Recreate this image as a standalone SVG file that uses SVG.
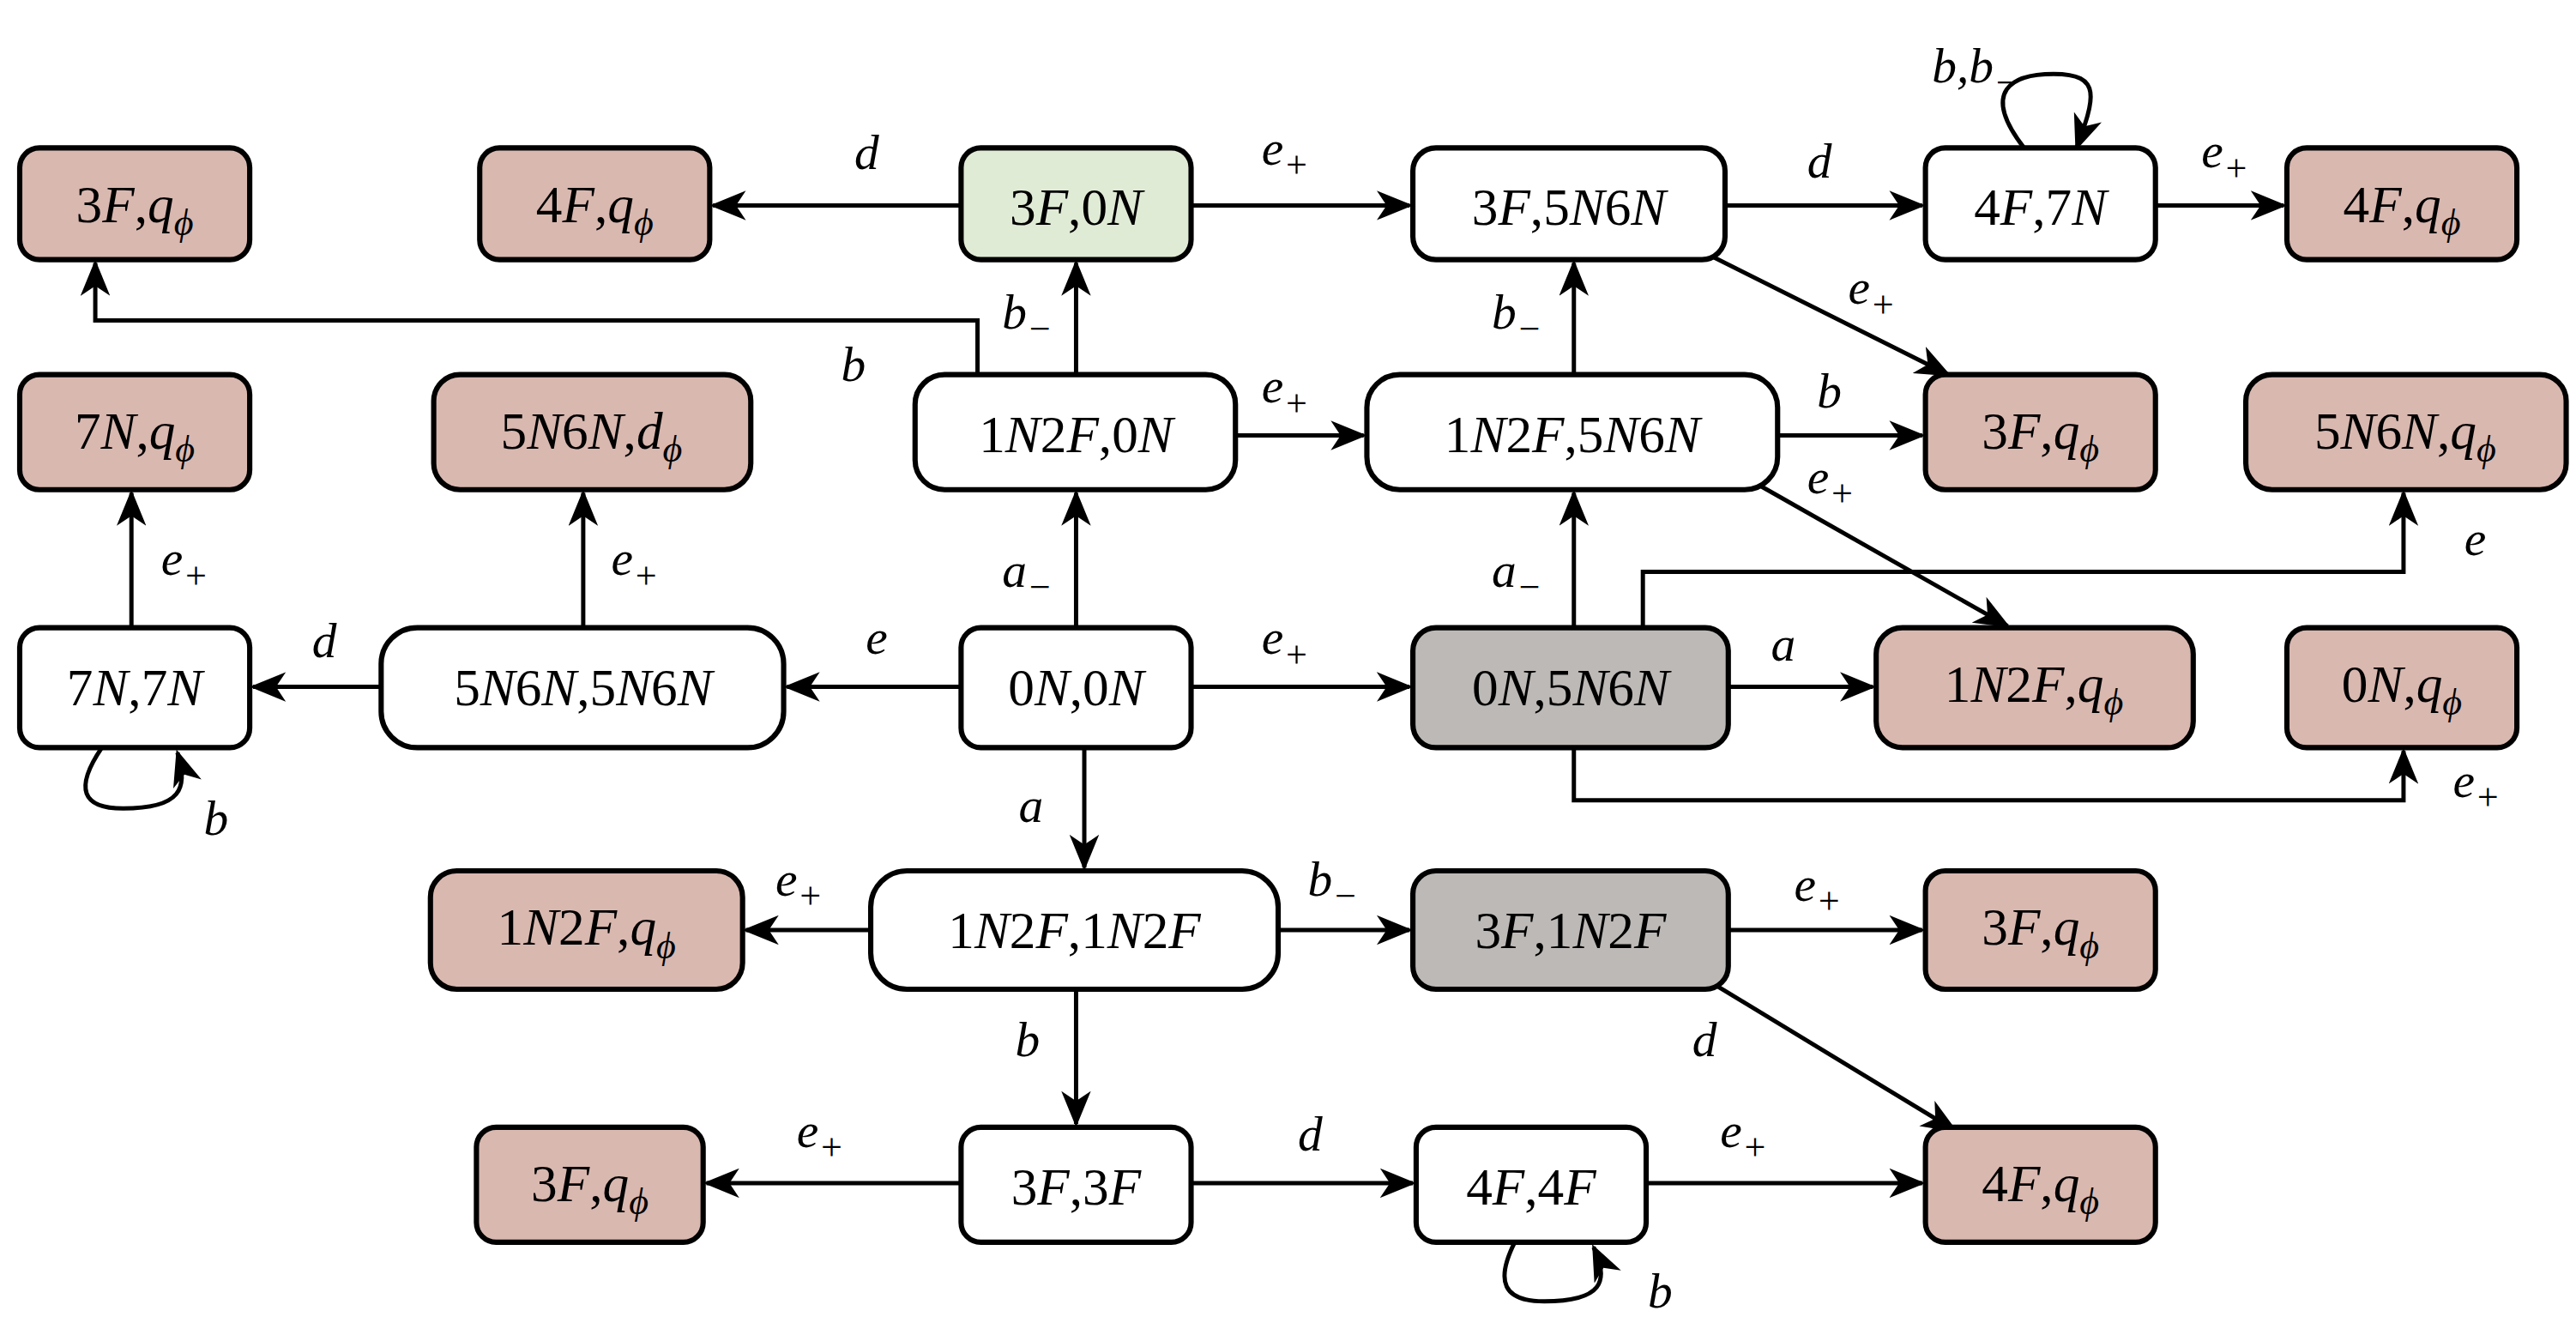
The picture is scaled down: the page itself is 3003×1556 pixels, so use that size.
<svg xmlns="http://www.w3.org/2000/svg" width="3003" height="1556" viewBox="0 0 3003 1556">
<style>
.n rect{stroke:#000;stroke-width:3.2}
.w{fill:#fff}.p{fill:#d9b8b0}.g{fill:#e0ebd6}.s{fill:#bdb9b7}
text{font-family:"Liberation Serif","Times New Roman",serif;font-size:32px;fill:#000}
.t{text-anchor:middle}
.i{font-style:italic}
.sub{font-size:23px;font-style:italic}
#edges path,#edges line{stroke:#000;stroke-width:2.6;fill:none}
.lb{font-style:italic;font-size:30px}
</style>
<defs>
<marker id="ah" markerUnits="userSpaceOnUse" markerWidth="22" markerHeight="18" refX="20" refY="9" orient="auto"><path d="M0,0 L22,9 L0,18 L6,9 Z" fill="#000"/></marker>
</defs>
<rect width="3003" height="1556" fill="#fff"/>
<g transform="scale(1.9152)">
<g id="edges">
<line x1="585" y1="125" x2="434" y2="125" marker-end="url(#ah)"/>
<line x1="725" y1="125" x2="858" y2="125" marker-end="url(#ah)"/>
<line x1="1050" y1="125" x2="1170" y2="125" marker-end="url(#ah)"/>
<line x1="1312" y1="125" x2="1390" y2="125" marker-end="url(#ah)"/>
<path d="M1232,90 C1205,55 1225,45 1250,45 C1280,45 1275,60 1264,90" marker-end="url(#ah)"/>
<line x1="1030" y1="150" x2="1186" y2="228" marker-end="url(#ah)"/>
<line x1="958" y1="228" x2="958" y2="160" marker-end="url(#ah)"/>
<line x1="655" y1="228" x2="655" y2="160" marker-end="url(#ah)"/>
<path d="M595,228 V195 H58 V160" marker-end="url(#ah)"/>
<line x1="752" y1="265" x2="830" y2="265" marker-end="url(#ah)"/>
<line x1="1082" y1="265" x2="1170" y2="265" marker-end="url(#ah)"/>
<line x1="1065" y1="292" x2="1222" y2="381" marker-end="url(#ah)"/>
<line x1="958" y1="382" x2="958" y2="300" marker-end="url(#ah)"/>
<path d="M1000,382 V348 H1463 V300" marker-end="url(#ah)"/>
<line x1="1052" y1="418" x2="1140" y2="418" marker-end="url(#ah)"/>
<path d="M958,455 V487 H1463 V457" marker-end="url(#ah)"/>
<line x1="725" y1="418" x2="858" y2="418" marker-end="url(#ah)"/>
<line x1="655" y1="382" x2="655" y2="300" marker-end="url(#ah)"/>
<line x1="585" y1="418" x2="479" y2="418" marker-end="url(#ah)"/>
<line x1="355" y1="382" x2="355" y2="300" marker-end="url(#ah)"/>
<line x1="232" y1="418" x2="154" y2="418" marker-end="url(#ah)"/>
<line x1="80" y1="382" x2="80" y2="300" marker-end="url(#ah)"/>
<path d="M62,455 C45,480 50,492 75,492 C110,492 115,480 108,458" marker-end="url(#ah)"/>
<line x1="660" y1="455" x2="660" y2="528" marker-end="url(#ah)"/>
<line x1="530" y1="566" x2="454" y2="566" marker-end="url(#ah)"/>
<line x1="778" y1="566" x2="858" y2="566" marker-end="url(#ah)"/>
<line x1="1052" y1="566" x2="1170" y2="566" marker-end="url(#ah)"/>
<line x1="1045" y1="600" x2="1190" y2="688" marker-end="url(#ah)"/>
<line x1="655" y1="602" x2="655" y2="684" marker-end="url(#ah)"/>
<line x1="585" y1="720" x2="430" y2="720" marker-end="url(#ah)"/>
<line x1="725" y1="720" x2="860" y2="720" marker-end="url(#ah)"/>
<line x1="1002" y1="720" x2="1170" y2="720" marker-end="url(#ah)"/>
<path d="M922,756 C910,780 915,792 940,792 C975,792 980,780 970,759" marker-end="url(#ah)"/>
</g>
<g id="labels">
<text class="lb" x="520" y="103">d</text>
<text class="lb" x="768" y="100">e<tspan class="sub" dy="8">+</tspan></text>
<text class="lb" x="1100" y="108">d</text>
<text class="lb" x="1340" y="102">e<tspan class="sub" dy="8">+</tspan></text>
<text class="lb" x="1176" y="50">b,b<tspan class="sub" dy="8">−</tspan></text>
<text class="lb" x="1125" y="185">e<tspan class="sub" dy="8">+</tspan></text>
<text class="lb" x="908" y="200">b<tspan class="sub" dy="8">−</tspan></text>
<text class="lb" x="610" y="200">b<tspan class="sub" dy="8">−</tspan></text>
<text class="lb" x="512" y="232">b</text>
<text class="lb" x="768" y="245">e<tspan class="sub" dy="8">+</tspan></text>
<text class="lb" x="1106" y="248">b</text>
<text class="lb" x="1100" y="300">e<tspan class="sub" dy="8">+</tspan></text>
<text class="lb" x="908" y="357">a<tspan class="sub" dy="8">−</tspan></text>
<text class="lb" x="1500" y="338">e</text>
<text class="lb" x="1078" y="402">a</text>
<text class="lb" x="1493" y="485">e<tspan class="sub" dy="8">+</tspan></text>
<text class="lb" x="768" y="398">e<tspan class="sub" dy="8">+</tspan></text>
<text class="lb" x="610" y="357">a<tspan class="sub" dy="8">−</tspan></text>
<text class="lb" x="527" y="398">e</text>
<text class="lb" x="372" y="350">e<tspan class="sub" dy="8">+</tspan></text>
<text class="lb" x="190" y="400">d</text>
<text class="lb" x="98" y="350">e<tspan class="sub" dy="8">+</tspan></text>
<text class="lb" x="124" y="508">b</text>
<text class="lb" x="620" y="500">a</text>
<text class="lb" x="472" y="545">e<tspan class="sub" dy="8">+</tspan></text>
<text class="lb" x="796" y="545">b<tspan class="sub" dy="8">−</tspan></text>
<text class="lb" x="1092" y="548">e<tspan class="sub" dy="8">+</tspan></text>
<text class="lb" x="1030" y="643">d</text>
<text class="lb" x="618" y="643">b</text>
<text class="lb" x="485" y="698">e<tspan class="sub" dy="8">+</tspan></text>
<text class="lb" x="790" y="700">d</text>
<text class="lb" x="1047" y="698">e<tspan class="sub" dy="8">+</tspan></text>
<text class="lb" x="1003" y="796">b</text>
</g>
<!-- row 1 -->
<g id="n_3Fq1" class="n"><rect class="p" x="12" y="90" width="140" height="68" rx="12"/><text class="t" x="82" y="135">3<tspan class="i">F</tspan>,<tspan class="i">q</tspan><tspan class="sub" dy="8">ϕ</tspan></text></g>
<g id="n_4Fq1" class="n"><rect class="p" x="292" y="90" width="140" height="68" rx="12"/><text class="t" x="362" y="135">4<tspan class="i">F</tspan>,<tspan class="i">q</tspan><tspan class="sub" dy="8">ϕ</tspan></text></g>
<g id="n_3F0N" class="n"><rect class="g" x="585" y="90" width="140" height="68" rx="12"/><text class="t" x="655" y="137">3<tspan class="i">F</tspan>,0<tspan class="i">N</tspan></text></g>
<g id="n_3F5N6N" class="n"><rect class="w" x="860" y="90" width="190" height="68" rx="14"/><text class="t" x="955" y="137">3<tspan class="i">F</tspan>,5<tspan class="i">N</tspan>6<tspan class="i">N</tspan></text></g>
<g id="n_4F7N" class="n"><rect class="w" x="1172" y="90" width="140" height="68" rx="12"/><text class="t" x="1242" y="137">4<tspan class="i">F</tspan>,7<tspan class="i">N</tspan></text></g>
<g id="n_4Fq2" class="n"><rect class="p" x="1392" y="90" width="140" height="68" rx="12"/><text class="t" x="1462" y="135">4<tspan class="i">F</tspan>,<tspan class="i">q</tspan><tspan class="sub" dy="8">ϕ</tspan></text></g>
<!-- row 2 -->
<g id="n_7Nq" class="n"><rect class="p" x="12" y="228" width="140" height="70" rx="12"/><text class="t" x="82" y="273">7<tspan class="i">N</tspan>,<tspan class="i">q</tspan><tspan class="sub" dy="8">ϕ</tspan></text></g>
<g id="n_5N6Nd" class="n"><rect class="p" x="264" y="228" width="193" height="70" rx="16"/><text class="t" x="360" y="273">5<tspan class="i">N</tspan>6<tspan class="i">N</tspan>,<tspan class="i">d</tspan><tspan class="sub" dy="8">ϕ</tspan></text></g>
<g id="n_1N2F0N" class="n"><rect class="w" x="557" y="228" width="195" height="70" rx="18"/><text class="t" x="655" y="275">1<tspan class="i">N</tspan>2<tspan class="i">F</tspan>,0<tspan class="i">N</tspan></text></g>
<g id="n_1N2F5N6N" class="n"><rect class="w" x="832" y="228" width="250" height="70" rx="20"/><text class="t" x="957" y="275">1<tspan class="i">N</tspan>2<tspan class="i">F</tspan>,5<tspan class="i">N</tspan>6<tspan class="i">N</tspan></text></g>
<g id="n_3Fq2" class="n"><rect class="p" x="1172" y="228" width="140" height="70" rx="12"/><text class="t" x="1242" y="273">3<tspan class="i">F</tspan>,<tspan class="i">q</tspan><tspan class="sub" dy="8">ϕ</tspan></text></g>
<g id="n_5N6Nq" class="n"><rect class="p" x="1367" y="228" width="195" height="70" rx="16"/><text class="t" x="1464" y="273">5<tspan class="i">N</tspan>6<tspan class="i">N</tspan>,<tspan class="i">q</tspan><tspan class="sub" dy="8">ϕ</tspan></text></g>
<!-- row 3 -->
<g id="n_7N7N" class="n"><rect class="w" x="12" y="382" width="140" height="73" rx="12"/><text class="t" x="82" y="429">7<tspan class="i">N</tspan>,7<tspan class="i">N</tspan></text></g>
<g id="n_5N6N5N6N" class="n"><rect class="w" x="232" y="382" width="245" height="73" rx="22"/><text class="t" x="355" y="429">5<tspan class="i">N</tspan>6<tspan class="i">N</tspan>,5<tspan class="i">N</tspan>6<tspan class="i">N</tspan></text></g>
<g id="n_0N0N" class="n"><rect class="w" x="585" y="382" width="140" height="73" rx="12"/><text class="t" x="655" y="429">0<tspan class="i">N</tspan>,0<tspan class="i">N</tspan></text></g>
<g id="n_0N5N6N" class="n"><rect class="s" x="860" y="382" width="192" height="73" rx="14"/><text class="t" x="956" y="429">0<tspan class="i">N</tspan>,5<tspan class="i">N</tspan>6<tspan class="i">N</tspan></text></g>
<g id="n_1N2Fq1" class="n"><rect class="p" x="1142" y="382" width="193" height="73" rx="16"/><text class="t" x="1238" y="427">1<tspan class="i">N</tspan>2<tspan class="i">F</tspan>,<tspan class="i">q</tspan><tspan class="sub" dy="8">ϕ</tspan></text></g>
<g id="n_0Nq" class="n"><rect class="p" x="1392" y="382" width="140" height="73" rx="12"/><text class="t" x="1462" y="427">0<tspan class="i">N</tspan>,<tspan class="i">q</tspan><tspan class="sub" dy="8">ϕ</tspan></text></g>
<!-- row 4 -->
<g id="n_1N2Fq2" class="n"><rect class="p" x="262" y="530" width="190" height="72" rx="16"/><text class="t" x="357" y="575">1<tspan class="i">N</tspan>2<tspan class="i">F</tspan>,<tspan class="i">q</tspan><tspan class="sub" dy="8">ϕ</tspan></text></g>
<g id="n_1N2F1N2F" class="n"><rect class="w" x="530" y="530" width="248" height="72" rx="22"/><text class="t" x="654" y="577">1<tspan class="i">N</tspan>2<tspan class="i">F</tspan>,1<tspan class="i">N</tspan>2<tspan class="i">F</tspan></text></g>
<g id="n_3F1N2F" class="n"><rect class="s" x="860" y="530" width="192" height="72" rx="14"/><text class="t" x="956" y="577">3<tspan class="i">F</tspan>,1<tspan class="i">N</tspan>2<tspan class="i">F</tspan></text></g>
<g id="n_3Fq3" class="n"><rect class="p" x="1172" y="530" width="140" height="72" rx="12"/><text class="t" x="1242" y="575">3<tspan class="i">F</tspan>,<tspan class="i">q</tspan><tspan class="sub" dy="8">ϕ</tspan></text></g>
<!-- row 5 -->
<g id="n_3Fq4" class="n"><rect class="p" x="290" y="686" width="138" height="70" rx="12"/><text class="t" x="359" y="731">3<tspan class="i">F</tspan>,<tspan class="i">q</tspan><tspan class="sub" dy="8">ϕ</tspan></text></g>
<g id="n_3F3F" class="n"><rect class="w" x="585" y="686" width="140" height="70" rx="12"/><text class="t" x="655" y="733">3<tspan class="i">F</tspan>,3<tspan class="i">F</tspan></text></g>
<g id="n_4F4F" class="n"><rect class="w" x="862" y="686" width="140" height="70" rx="12"/><text class="t" x="932" y="733">4<tspan class="i">F</tspan>,4<tspan class="i">F</tspan></text></g>
<g id="n_4Fq3" class="n"><rect class="p" x="1172" y="686" width="140" height="70" rx="12"/><text class="t" x="1242" y="731">4<tspan class="i">F</tspan>,<tspan class="i">q</tspan><tspan class="sub" dy="8">ϕ</tspan></text></g>
</g>
</svg>
